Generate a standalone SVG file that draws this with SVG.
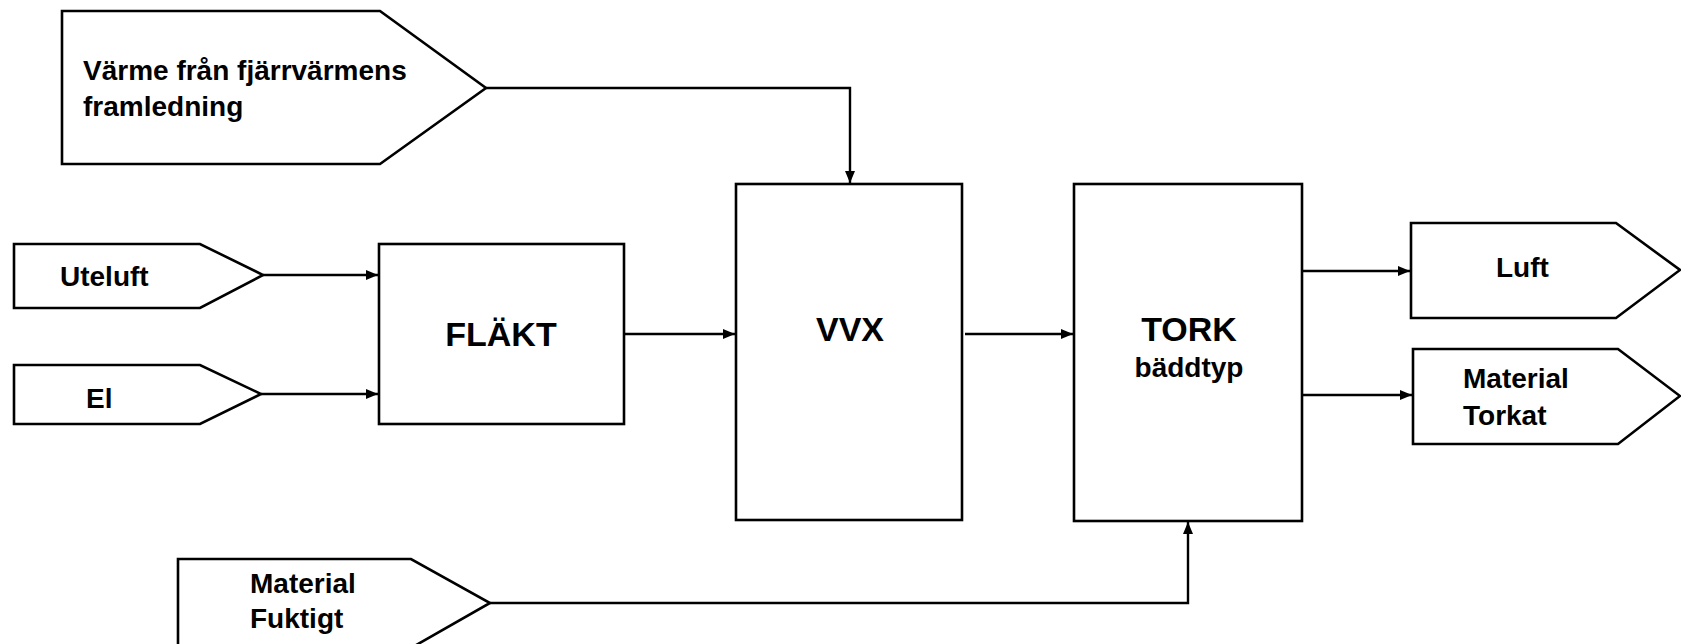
<svg xmlns="http://www.w3.org/2000/svg" width="1681" height="644" viewBox="0 0 1681 644">
<style>
.box{fill:#fff;stroke:#000;stroke-width:2.6}
.ln{fill:none;stroke:#000;stroke-width:2.4}
text{font-family:"Liberation Sans",Arial,sans-serif;font-weight:bold;fill:#000}
.s{font-size:28px}
.b{font-size:34px}
</style>
<defs>
<marker id="ah" markerUnits="userSpaceOnUse" markerWidth="12" markerHeight="10" refX="12" refY="5" orient="auto">
<path d="M0,0 L12,5 L0,10 Z" fill="#000"/>
</marker>
</defs>
<rect width="1681" height="644" fill="#fff"/>
<g id="connectors">
<path class="ln" d="M486,88 H850 V183" marker-end="url(#ah)"/>
<path class="ln" d="M263,275 H378" marker-end="url(#ah)"/>
<path class="ln" d="M261,394 H378" marker-end="url(#ah)"/>
<path class="ln" d="M624,334 H735" marker-end="url(#ah)"/>
<path class="ln" d="M965,334 H1073" marker-end="url(#ah)"/>
<path class="ln" d="M1302,271 H1410" marker-end="url(#ah)"/>
<path class="ln" d="M1302,395 H1412" marker-end="url(#ah)"/>
<path class="ln" d="M490,603 H1188 V522" marker-end="url(#ah)"/>
</g>
<g id="varme">
<polygon class="box" points="62,11 380,11 486,88 380,164 62,164"/>
<text class="s" x="83" y="80">Värme från fjärrvärmens</text>
<text class="s" x="83" y="116">framledning</text>
</g>
<g id="uteluft">
<polygon class="box" points="14,244 200,244 263,275 200,308 14,308"/>
<text class="s" x="60" y="286">Uteluft</text>
</g>
<g id="el">
<polygon class="box" points="14,365 200,365 261,394 200,424 14,424"/>
<text class="s" x="86" y="408">El</text>
</g>
<g id="flakt">
<rect class="box" x="379" y="244" width="245" height="180"/>
<text class="b" x="501" y="346" text-anchor="middle">FLÄKT</text>
</g>
<g id="vvx">
<rect class="box" x="736" y="184" width="226" height="336"/>
<text class="b" x="850" y="341" text-anchor="middle">VVX</text>
</g>
<g id="tork">
<rect class="box" x="1074" y="184" width="228" height="337"/>
<text class="b" x="1189" y="341" text-anchor="middle">TORK</text>
<text class="s" x="1189" y="377" text-anchor="middle">bäddtyp</text>
</g>
<g id="luft">
<polygon class="box" points="1411,223 1616,223 1680,270 1616,318 1411,318"/>
<text class="s" x="1496" y="277">Luft</text>
</g>
<g id="material-torkat">
<polygon class="box" points="1413,349 1618,349 1680,396 1618,444 1413,444"/>
<text class="s" x="1463" y="388">Material</text>
<text class="s" x="1463" y="425">Torkat</text>
</g>
<g id="material-fuktigt">
<polygon class="box" points="178,559 411,559 490,603 411,648 178,648"/>
<text class="s" x="250" y="593">Material</text>
<text class="s" x="250" y="628">Fuktigt</text>
</g>
</svg>
